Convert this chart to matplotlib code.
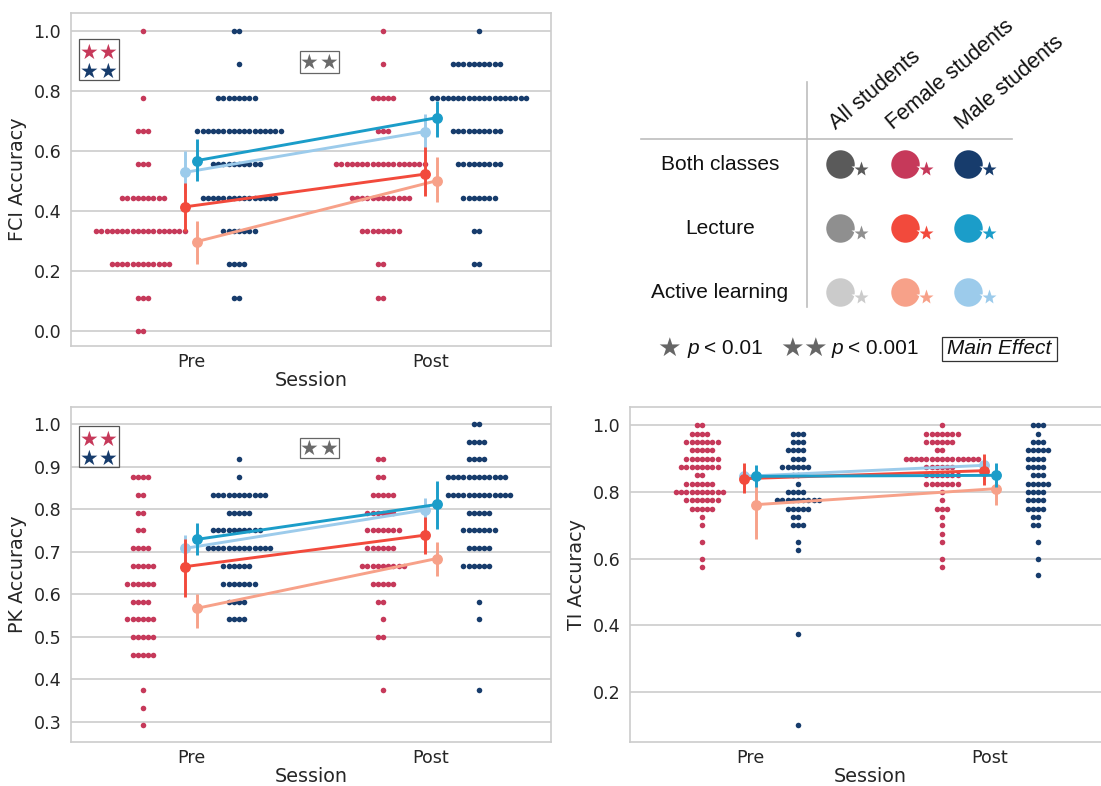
import numpy as np
import matplotlib
matplotlib.use("Agg")
import matplotlib.pyplot as plt
from matplotlib.patches import Rectangle

W, H = 1101, 786

# ---------------- data ----------------
sessions = ["Pre", "Post"]

# FCI swarm (score levels, number of students at each level)
fci_f_pre_scores = [0.0, 0.111, 0.222, 0.333, 0.444, 0.556, 0.667, 0.778, 1.0]
fci_f_pre_counts = [2, 3, 12, 18, 9, 3, 3, 1, 1]
fci_m_pre_scores = [0.111, 0.222, 0.333, 0.444, 0.556, 0.667, 0.778, 0.889, 1.0]
fci_m_pre_counts = [2, 4, 7, 15, 10, 17, 8, 1, 2]
fci_f_post_scores = [0.111, 0.222, 0.333, 0.444, 0.556, 0.667, 0.778, 0.889, 1.0]
fci_f_post_counts = [2, 2, 8, 12, 18, 3, 5, 1, 1]
fci_m_post_scores = [0.222, 0.333, 0.444, 0.556, 0.667, 0.778, 0.889, 1.0]
fci_m_post_counts = [2, 2, 7, 9, 10, 19, 10, 1]

# PK swarm
pk_f_pre_scores = [0.292, 0.333, 0.375, 0.458, 0.5, 0.542, 0.583, 0.625, 0.667, 0.708, 0.75, 0.792, 0.833, 0.875]
pk_f_pre_counts = [1, 1, 1, 5, 5, 6, 4, 6, 5, 4, 2, 2, 2, 4]
pk_m_pre_scores = [0.542, 0.583, 0.625, 0.667, 0.708, 0.75, 0.792, 0.833, 0.875, 0.917]
pk_m_pre_counts = [4, 4, 7, 6, 13, 10, 5, 11, 1, 1]
pk_f_post_scores = [0.375, 0.5, 0.542, 0.583, 0.625, 0.667, 0.708, 0.75, 0.792, 0.833, 0.875, 0.917]
pk_f_post_counts = [1, 2, 1, 2, 5, 9, 6, 7, 6, 5, 2, 2]
pk_m_post_scores = [0.375, 0.542, 0.583, 0.667, 0.708, 0.75, 0.792, 0.833, 0.875, 0.917, 0.958, 1.0]
pk_m_post_counts = [1, 1, 1, 6, 5, 7, 5, 13, 12, 4, 4, 2]

# TI swarm
ti_f_pre_scores = [0.575, 0.6, 0.65, 0.7, 0.725, 0.75, 0.775, 0.8, 0.825, 0.85, 0.875, 0.9, 0.925, 0.95, 0.975, 1.0]
ti_f_pre_counts = [1, 1, 1, 1, 1, 5, 7, 10, 6, 2, 8, 7, 5, 7, 4, 2]
ti_m_pre_scores = [0.1, 0.375, 0.625, 0.65, 0.7, 0.725, 0.75, 0.775, 0.8, 0.825, 0.85, 0.875, 0.9, 0.925, 0.95, 0.975]
ti_m_pre_counts = [1, 1, 1, 1, 3, 2, 5, 9, 4, 1, 2, 6, 3, 4, 3, 3]
ti_f_post_scores = [0.575, 0.6, 0.65, 0.675, 0.7, 0.725, 0.75, 0.775, 0.8, 0.825, 0.85, 0.875, 0.9, 0.925, 0.95, 0.975, 1.0]
ti_f_post_counts = [1, 1, 1, 1, 1, 1, 3, 1, 1, 7, 7, 6, 15, 2, 6, 7, 1]
ti_m_post_scores = [0.55, 0.6, 0.65, 0.7, 0.725, 0.75, 0.775, 0.8, 0.825, 0.85, 0.875, 0.9, 0.925, 0.95, 0.975, 1.0]
ti_m_post_counts = [1, 1, 1, 2, 2, 4, 4, 4, 5, 3, 4, 4, 5, 3, 1, 3]

# Point estimates (Pre, Post) with 95% CI
fci_lec_f_mean = [0.414, 0.523]; fci_lec_f_lo = [0.334, 0.451]; fci_lec_f_hi = [0.495, 0.612]
fci_act_f_mean = [0.298, 0.501]; fci_act_f_lo = [0.223, 0.429]; fci_act_f_hi = [0.367, 0.579]
fci_lec_m_mean = [0.568, 0.711]; fci_lec_m_lo = [0.501, 0.646]; fci_lec_m_hi = [0.640, 0.768]
fci_act_m_mean = [0.529, 0.665]; fci_act_m_lo = [0.460, 0.610]; fci_act_m_hi = [0.600, 0.724]

pk_lec_f_mean = [0.665, 0.739]; pk_lec_f_lo = [0.594, 0.695]; pk_lec_f_hi = [0.731, 0.782]
pk_act_f_mean = [0.567, 0.684]; pk_act_f_lo = [0.520, 0.643]; pk_act_f_hi = [0.600, 0.724]
pk_lec_m_mean = [0.729, 0.811]; pk_lec_m_lo = [0.692, 0.753]; pk_lec_m_hi = [0.767, 0.866]
pk_act_m_mean = [0.708, 0.798]; pk_act_m_lo = [0.670, 0.771]; pk_act_m_hi = [0.740, 0.826]

ti_lec_f_mean = [0.840, 0.864]; ti_lec_f_lo = [0.798, 0.820]; ti_lec_f_hi = [0.887, 0.915]
ti_act_f_mean = [0.762, 0.810]; ti_act_f_lo = [0.660, 0.760]; ti_act_f_hi = [0.850, 0.835]
ti_lec_m_mean = [0.847, 0.850]; ti_lec_m_lo = [0.815, 0.815]; ti_lec_m_hi = [0.882, 0.887]
ti_act_m_mean = [0.847, 0.880]; ti_act_m_lo = [0.820, 0.860]; ti_act_m_hi = [0.875, 0.905]

legend_rows = ["Both classes", "Lecture", "Active learning"]
legend_cols = ["All students", "Female students", "Male students"]

# ---------------- style ----------------
C_FEMALE = "#c6395a"
C_MALE = "#173c6c"
C_LEC_F = "#f24a3c"
C_ACT_F = "#f7a189"
C_LEC_M = "#1b9dc9"
C_ACT_M = "#9ccbeb"
legend_colors = [["#5a5a5a", C_FEMALE, C_MALE],
                 ["#8f8f8f", C_LEC_F, C_LEC_M],
                 ["#cbcbcb", C_ACT_F, C_ACT_M]]
GRID = "#d3d3d3"
TXT = "#262626"

plt.rcParams["font.family"] = "DejaVu Sans"
fig = plt.figure(figsize=(W / 100, H / 100), dpi=100)


def px_rect(l, t, r, b):
    return [l / W, 1 - b / H, (r - l) / W, (b - t) / H]


DOT_PX = 5.2      # spacing of swarm dots in pixels
DOT_S = 16        # marker area (pt^2)


def swarm(ax, center, scores, counts, color, ax_px_width):
    d = DOT_PX / (ax_px_width / 2.0)
    xs, ys = [], []
    for s, n in zip(scores, counts):
        order = [0]
        k = 1
        while len(order) < n:
            order.append(-k)
            if len(order) < n:
                order.append(k)
            k += 1
        for o in order[:n]:
            xs.append(center + o * d)
            ys.append(s)
    ax.scatter(xs, ys, s=DOT_S, color=color, linewidths=0, zorder=2)


def points(ax, mean, lo, hi, color, offset, z):
    x = np.arange(len(sessions)) + offset
    ax.plot(x, mean, color=color, lw=2.1, zorder=z, solid_capstyle="round")
    ax.vlines(x, lo, hi, color=color, lw=2.1, zorder=z)
    ax.plot(x, mean, "o", color=color, ms=6.8, zorder=z + 0.1)


def style_axes(ax, ylabel, ylim, yticks):
    ax.set_xlim(-0.5, 1.5)
    ax.set_ylim(*ylim)
    ax.set_xticks([0, 1])
    ax.set_xticklabels(sessions)
    ax.set_yticks(yticks)
    ax.set_yticklabels([f"{t:.1f}" for t in yticks])
    ax.tick_params(axis="x", length=0, pad=5, labelsize=12.6, colors=TXT)
    ax.tick_params(axis="y", length=0, pad=7, labelsize=12.6, colors=TXT)
    ax.set_xlabel("Session", fontsize=13.8, color=TXT, labelpad=0)
    ax.set_ylabel(ylabel, fontsize=13.8, color=TXT, labelpad=5)
    ax.yaxis.grid(True, color=GRID, lw=1.4, zorder=0)
    ax.set_axisbelow(True)
    for sp in ax.spines.values():
        sp.set_color("#cccccc")
        sp.set_linewidth(1.2)


panels = [
    dict(rect=(71, 13, 551, 346), ylabel="FCI Accuracy", ylim=(-0.05, 1.06),
         yticks=[0.0, 0.2, 0.4, 0.6, 0.8, 1.0],
         swarms=[(fci_f_pre_scores, fci_f_pre_counts, fci_f_post_scores, fci_f_post_counts, C_FEMALE, -0.2),
                 (fci_m_pre_scores, fci_m_pre_counts, fci_m_post_scores, fci_m_post_counts, C_MALE, 0.2)],
         pts=[(fci_act_m_mean, fci_act_m_lo, fci_act_m_hi, C_ACT_M, -0.024, 4),
              (fci_act_f_mean, fci_act_f_lo, fci_act_f_hi, C_ACT_F, 0.024, 5),
              (fci_lec_f_mean, fci_lec_f_lo, fci_lec_f_hi, C_LEC_F, -0.024, 6),
              (fci_lec_m_mean, fci_lec_m_lo, fci_lec_m_hi, C_LEC_M, 0.024, 7)]),
    dict(rect=(71, 407, 551, 742), ylabel="PK Accuracy", ylim=(0.253, 1.04),
         yticks=[0.3, 0.4, 0.5, 0.6, 0.7, 0.8, 0.9, 1.0],
         swarms=[(pk_f_pre_scores, pk_f_pre_counts, pk_f_post_scores, pk_f_post_counts, C_FEMALE, -0.2),
                 (pk_m_pre_scores, pk_m_pre_counts, pk_m_post_scores, pk_m_post_counts, C_MALE, 0.2)],
         pts=[(pk_act_m_mean, pk_act_m_lo, pk_act_m_hi, C_ACT_M, -0.024, 4),
              (pk_act_f_mean, pk_act_f_lo, pk_act_f_hi, C_ACT_F, 0.024, 5),
              (pk_lec_f_mean, pk_lec_f_lo, pk_lec_f_hi, C_LEC_F, -0.024, 6),
              (pk_lec_m_mean, pk_lec_m_lo, pk_lec_m_hi, C_LEC_M, 0.024, 7)]),
    dict(rect=(630, 407, 1110, 742), ylabel="TI Accuracy", ylim=(0.05, 1.055),
         yticks=[0.2, 0.4, 0.6, 0.8, 1.0],
         swarms=[(ti_f_pre_scores, ti_f_pre_counts, ti_f_post_scores, ti_f_post_counts, C_FEMALE, -0.2),
                 (ti_m_pre_scores, ti_m_pre_counts, ti_m_post_scores, ti_m_post_counts, C_MALE, 0.2)],
         pts=[(ti_act_m_mean, ti_act_m_lo, ti_act_m_hi, C_ACT_M, -0.024, 4),
              (ti_act_f_mean, ti_act_f_lo, ti_act_f_hi, C_ACT_F, 0.024, 5),
              (ti_lec_f_mean, ti_lec_f_lo, ti_lec_f_hi, C_LEC_F, -0.024, 6),
              (ti_lec_m_mean, ti_lec_m_lo, ti_lec_m_hi, C_LEC_M, 0.024, 7)]),
]

for p in panels:
    l, t, r, b = p["rect"]
    ax = fig.add_axes(px_rect(l, t, r, b))
    for pre_s, pre_c, post_s, post_c, col, off in p["swarms"]:
        swarm(ax, 0 + off, pre_s, pre_c, col, r - l)
        swarm(ax, 1 + off, post_s, post_c, col, r - l)
    for mean, lo, hi, col, off, z in p["pts"]:
        points(ax, mean, lo, hi, col, off, z)
    style_axes(ax, p["ylabel"], p["ylim"], p["yticks"])

# ---------------- overlay (legend + significance boxes), pixel coordinates ----------------
ov = fig.add_axes([0, 0, 1, 1], zorder=10)
ov.set_xlim(0, W)
ov.set_ylim(H, 0)
ov.axis("off")
ov.patch.set_alpha(0)

STAR_FONT = "DejaVu Sans"


def star(x, y, color, size):
    ov.text(x, y, "\u2605", color=color, fontsize=size, ha="center", va="center",
            fontfamily=STAR_FONT)


def sig_boxes(top_box, gray_box):
    # two-row (female / male) box
    x0, y0, x1, y1 = top_box
    ov.add_patch(Rectangle((x0, y0), x1 - x0, y1 - y0, fill=False, ec="#555555", lw=0.9))
    for sx in (x0 + 10, x0 + 29.5):
        star(sx, y0 + 13.5, C_FEMALE, 15)
        star(sx, y0 + 32.5, C_MALE, 15)
    gx0, gy0, gx1, gy1 = gray_box
    ov.add_patch(Rectangle((gx0, gy0), gx1 - gx0, gy1 - gy0, fill=False, ec="#666666", lw=0.9))
    for sx in (gx0 + 9.5, gx0 + 29.5):
        star(sx, (gy0 + gy1) / 2 + 0.5, "#6a6a6a", 15)


sig_boxes((79, 39, 119, 80), (300, 51, 339, 73))
sig_boxes((79, 426, 119, 467), (300, 438, 339, 458))

# legend table
LFONT = "Liberation Sans"
ov.plot([807, 807], [82, 307], color="#bdbdbd", lw=1.2)
ov.plot([641, 1012], [139, 139], color="#bdbdbd", lw=1.2)
col_x = [840, 905, 968]
row_y = [164, 228, 292]
hdr_x = [836, 893, 962]
for hx, lab in zip(hdr_x, legend_cols):
    ov.text(hx, 130, lab, rotation=40, rotation_mode="anchor", ha="left", va="baseline",
            fontsize=15.5, fontfamily=LFONT, color="#111111")
for ry, lab in zip(row_y, legend_rows):
    ov.text(720, ry, lab, ha="center", va="center", fontsize=15, fontfamily=LFONT, color="#111111")
for i, ry in enumerate(row_y):
    for j, cx in enumerate(col_x):
        c = legend_colors[i][j]
        ov.plot(cx, ry, "o", ms=20.5, color=c, mec="none")
        ov.plot(cx + 21, ry + 5, "*", ms=15, color="white", mec="none")
        ov.plot(cx + 21, ry + 5, "*", ms=11, color=c, mec="none")

# p-value key
ly = 349
star(669, ly, "#666666", 19)
ov.text(688, ly, "p", fontstyle="italic", fontsize=15, fontfamily=LFONT, ha="left", va="center", color="#111111")
ov.text(704, ly, "< 0.01", fontsize=15, fontfamily=LFONT, ha="left", va="center", color="#111111")
star(792, ly, "#666666", 19)
star(815, ly, "#666666", 19)
ov.text(832, ly, "p", fontstyle="italic", fontsize=15, fontfamily=LFONT, ha="left", va="center", color="#111111")
ov.text(848, ly, "< 0.001", fontsize=15, fontfamily=LFONT, ha="left", va="center", color="#111111")
ov.add_patch(Rectangle((942, 337), 115, 24, fill=False, ec="#333333", lw=0.9))
ov.text(947, ly, "Main Effect", fontstyle="italic", fontsize=15, fontfamily=LFONT, ha="left",
        va="center", color="#111111")

fig.savefig("out.png", dpi=100)
